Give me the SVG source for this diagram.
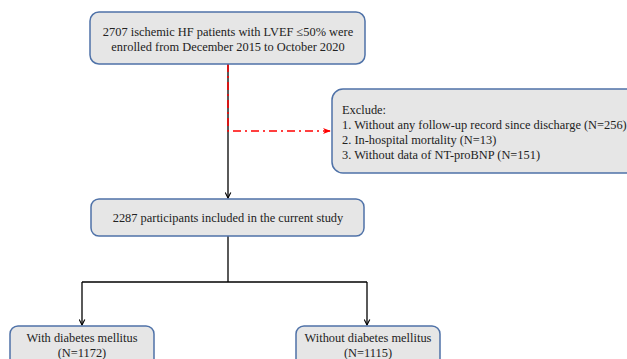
<svg xmlns="http://www.w3.org/2000/svg" width="627" height="359" viewBox="0 0 627 359">
<style>
.box{fill:#e6e6e6;stroke:#4f72a8;stroke-width:1.5}
.t{font-family:"Liberation Serif","Times New Roman",serif;font-size:12.4px;fill:#222}
.c{text-anchor:middle}
.ln{fill:none;stroke:#000;stroke-width:1.3}
.rd{fill:none;stroke:#ff0000;stroke-width:1.5;stroke-dasharray:8 4 2 4}
</style>
<defs>
<marker id="ab" viewBox="0 0 10 10" refX="9" refY="5" markerWidth="7" markerHeight="7" markerUnits="userSpaceOnUse" orient="auto">
<path d="M1,1 L9,5 L1,9" fill="none" stroke="#000" stroke-width="1.6"/>
</marker>
<marker id="ar" viewBox="0 0 10 10" refX="9" refY="5" markerWidth="8" markerHeight="8" markerUnits="userSpaceOnUse" orient="auto">
<path d="M0,1 L10,5 L0,9 L3,5 Z" fill="#ff0000"/>
</marker>
</defs>
<g id="connectors">
<path class="ln" d="M228,64 L228,198" marker-end="url(#ab)"/>
<path class="rd" d="M228,64 L228,131 L330,131" marker-end="url(#ar)"/>
<path class="ln" d="M228,236 L228,282"/>
<path class="ln" d="M82,282 L367,282"/>
<path class="ln" d="M82,282 L82,325" marker-end="url(#ab)"/>
<path class="ln" d="M367,282 L367,325" marker-end="url(#ab)"/>
</g>
<g id="n1">
<rect class="box" x="90" y="12" width="275" height="52" rx="9"/>
<text class="t c" x="228" y="36">2707 ischemic HF patients with LVEF ≤50% were</text>
<text class="t c" x="228" y="51">enrolled from December 2015 to October 2020</text>
</g>
<g id="n2">
<rect class="box" x="332" y="89" width="305" height="84" rx="11"/>
<text class="t" x="342" y="114">Exclude:</text>
<text class="t" x="342" y="128.5">1. Without any follow-up record since discharge (N=256)</text>
<text class="t" x="342" y="143.5">2. In-hospital mortality (N=13)</text>
<text class="t" x="342" y="158.5">3. Without data of NT-proBNP (N=151)</text>
</g>
<g id="n3">
<rect class="box" x="91" y="199" width="273" height="37" rx="8"/>
<text class="t c" x="228" y="222">2287 participants included in the current study</text>
</g>
<g id="n4">
<rect class="box" x="10" y="326" width="144" height="50" rx="8"/>
<text class="t c" x="82" y="342">With diabetes mellitus</text>
<text class="t c" x="82" y="356.5">(N=1172)</text>
</g>
<g id="n5">
<rect class="box" x="296" y="326" width="144" height="50" rx="8"/>
<text class="t c" x="368" y="342">Without diabetes mellitus</text>
<text class="t c" x="368" y="356.5">(N=1115)</text>
</g>
</svg>
